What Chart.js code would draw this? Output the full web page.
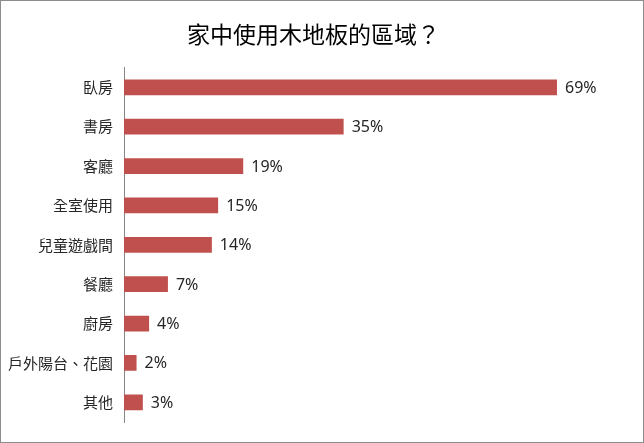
<!DOCTYPE html>
<html>
<head>
<meta charset="utf-8">
<script src="https://cdn.jsdelivr.net/npm/chart.js@4"></script>
<style>
  html, body { margin: 0; padding: 0; background: #fff; }
  #wrap { width: 644px; height: 443px; box-sizing: border-box; border: 1px solid #8c8c8c; }
  canvas { display: block; }
</style>
</head>
<body>
<div id="wrap"><canvas id="floorChart" width="642" height="441"></canvas></div>
<script>
const titleText = "家中使用木地板的區域？";
const categories = ["臥房", "書房", "客廳", "全室使用", "兒童遊戲間", "餐廳", "廚房", "戶外陽台、花園", "其他"];
const percents = [69, 35, 19, 15, 14, 7, 4, 2, 3];

// draws the "69%" style labels at the end of each bar
const valueLabels = {
  id: "valueLabels",
  afterDatasetsDraw(chart) {
    const ctx = chart.ctx;
    const meta = chart.getDatasetMeta(0);
    ctx.save();
    ctx.font = "16px 'Noto Sans', sans-serif";
    ctx.fillStyle = "#262626";
    ctx.textAlign = "left";
    ctx.textBaseline = "middle";
    meta.data.forEach((bar, i) => {
      ctx.fillText(percents[i] + "%", bar.x + 8, bar.y + 1);
    });
    ctx.restore();
  },
};

const ctx = document.getElementById("floorChart").getContext("2d");
new Chart(ctx, {
  type: "bar",
  data: {
    labels: categories,
    datasets: [
      {
        data: percents,
        backgroundColor: "#c0504d",
        barPercentage: 0.4,
        categoryPercentage: 1.0,
      },
    ],
  },
  options: {
    indexAxis: "y",
    responsive: false,
    animation: false,
    layout: { padding: { top: 10, right: 17, bottom: 15, left: 0 } },
    plugins: {
      legend: { display: false },
      tooltip: { enabled: false },
      title: {
        display: true,
        text: titleText,
        color: "#000",
        font: { family: "'Noto Sans CJK TC', sans-serif", size: 23, weight: "normal" },
        padding: { top: 9, bottom: 20 },
      },
    },
    scales: {
      x: { display: false, min: 0, max: 80 },
      y: {
        grid: { display: false, drawTicks: false },
        border: { display: true, color: "#868686", width: 1 },
        ticks: {
          color: "#262626",
          padding: 11,
          font: { family: "'Noto Sans CJK TC', sans-serif", size: 15 },
        },
        afterFit(scale) {
          scale.width = 123;
        },
      },
    },
  },
  plugins: [valueLabels],
});
</script>
</body>
</html>
